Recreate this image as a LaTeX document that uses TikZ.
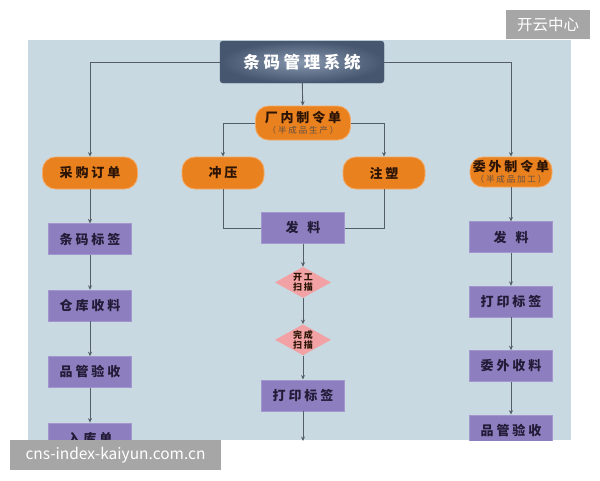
\documentclass[tikz,border=0pt]{standalone}
\usepackage{fontspec}
\usepackage{xcolor}
\usepackage{tikz}
\usetikzlibrary{shapes.geometric,arrows.meta,positioning}

\newfontfamily\cjk{Noto Sans CJK SC}
\newfontfamily\cjkw[LetterSpace=22]{Noto Sans CJK SC}

\definecolor{panelbg}{HTML}{C9D9E1}
\definecolor{sysout}{HTML}{46566F}
\definecolor{sysin}{HTML}{8797AE}
\definecolor{ordfill}{HTML}{E9811F}
\definecolor{orddraw}{HTML}{F3A965}
\definecolor{itemfill}{HTML}{8D7FBF}
\definecolor{itemdraw}{HTML}{A396CE}
\definecolor{scanfill}{HTML}{F2A2A4}
\definecolor{linkgray}{HTML}{535E68}
\definecolor{inktext}{HTML}{221C38}
\definecolor{ordtext}{HTML}{2B1406}
\definecolor{markgray}{HTML}{A6A6A6}

\newcommand{\subnote}[1]{{\cjkw\mdseries\fontsize{8.5}{9}\selectfont\color{ordtext!75}#1}}

\begin{document}
\begin{tikzpicture}[
        x=1pt, y=-1pt,
        sysbox/.style={rectangle, rounded corners=3pt, draw=sysout, inner color=sysin, outer color=sysout, minimum width=164pt, minimum height=42pt, text=white, font=\cjkw\bfseries\fontsize{16.5}{20}\selectfont},
        ordbox/.style={rectangle, rounded corners=13pt, draw=orddraw, thick, fill=ordfill, minimum width=82pt, minimum height=32pt, inner sep=0pt, align=center, text=ordtext, font=\cjkw\bfseries\fontsize{13}{15}\selectfont},
        itembox/.style={rectangle, draw=itemdraw, fill=itemfill, minimum width=83pt, minimum height=31pt, inner sep=0pt, text=inktext, font=\cjkw\bfseries\fontsize{13}{15}\selectfont},
        scanbox/.style={diamond, aspect=1.8, fill=scanfill, inner sep=0pt, minimum width=56pt, minimum height=31pt, align=center, text=ordtext, font=\cjkw\bfseries\fontsize{9}{10}\selectfont},
        markbox/.style={rectangle, fill=markgray, inner sep=0pt, minimum height=29pt, text=white, font=\cjk\fontsize{15.5}{18}\selectfont},
        arrow/.style={-{Stealth[length=4.5pt,width=4pt]}, line width=0.9pt, draw=linkgray},
        link/.style={line width=0.9pt, draw=linkgray}
    ]
        \useasboundingbox (0,0) rectangle (600,480);
        \fill[panelbg] (28,40) rectangle (571,440);

        \begin{scope}
        \clip (28,40) rectangle (571,440);
        % Nodes
        \node[sysbox] (sys) at (302,62) {条码管理系统};
        \node[ordbox, minimum width=95pt, minimum height=34pt] (inhouse) at (303,123) {厂内制令单\\[-4pt]\subnote{（半成品生产）}};
        \node[ordbox, minimum width=95pt] (purchase) at (90,173) {采购订单};
        \node[ordbox] (stamp) at (223,173) {冲压};
        \node[ordbox] (mould) at (384,173) {注塑};
        \node[ordbox, minimum height=30pt] (outsrc) at (511,172) {委外制令单\\[-4pt]\subnote{（半成品加工）}};

        % left column
        \node[itembox, below=34pt of purchase] (barcode) {条码标签};
        \node[itembox, below=35pt of barcode] (receive) {仓库收料};
        \node[itembox, below=35pt of receive] (qcleft) {品管验收};
        \node[itembox, below=35pt of qcleft] (stockin) {入库单};

        % middle column
        \node[itembox] (issue) at (303,228) {发\hspace{9pt}料};
        \node[scanbox, below=23pt of issue] (scanstart) {开工\\扫描};
        \node[scanbox, below=26pt of scanstart] (scandone) {完成\\扫描};
        \node[itembox, below=24pt of scandone] (printmid) {打印标签};
        \coordinate (tail) at (303,441);

        % right column
        \node[itembox, below=34pt of outsrc] (outissue) {发\hspace{9pt}料};
        \node[itembox, below=33pt of outissue] (printright) {打印标签};
        \node[itembox, below=33pt of printright] (outreceive) {委外收料};
        \node[itembox, below=33pt of outreceive] (qcright) {品管验收};

        % Paths
        \draw[arrow] (sys.west) -| (purchase.north);
        \draw[arrow] (sys.east) -| (outsrc.north);
        \draw[arrow] (sys) -- (inhouse);
        \draw[arrow] (inhouse.west) -| (stamp.north);
        \draw[arrow] (inhouse.east) -| (mould.north);
        \draw[link] (stamp.south) |- (issue.west);
        \draw[link] (mould.south) |- (issue.east);

        \draw[arrow] (purchase) -- (barcode);
        \draw[arrow] (barcode) -- (receive);
        \draw[arrow] (receive) -- (qcleft);
        \draw[arrow] (qcleft) -- (stockin);

        \draw[arrow] (issue) -- (scanstart);
        \draw[arrow] (scanstart) -- (scandone);
        \draw[arrow] (scandone) -- (printmid);
        \draw[arrow] (printmid) -- (tail);

        \draw[arrow] (outsrc) -- (outissue);
        \draw[arrow] (outissue) -- (printright);
        \draw[arrow] (printright) -- (outreceive);
        \draw[arrow] (outreceive) -- (qcright);
        \end{scope}

        % watermarks
        \node[markbox, minimum width=84pt] (markcn) at (548,24.5) {开云中心};
        \node[markbox, minimum width=211pt, minimum height=30pt] (markurl) at (115.5,455) {cns-index-kaiyun.com.cn};
    \end{tikzpicture}
\end{document}
